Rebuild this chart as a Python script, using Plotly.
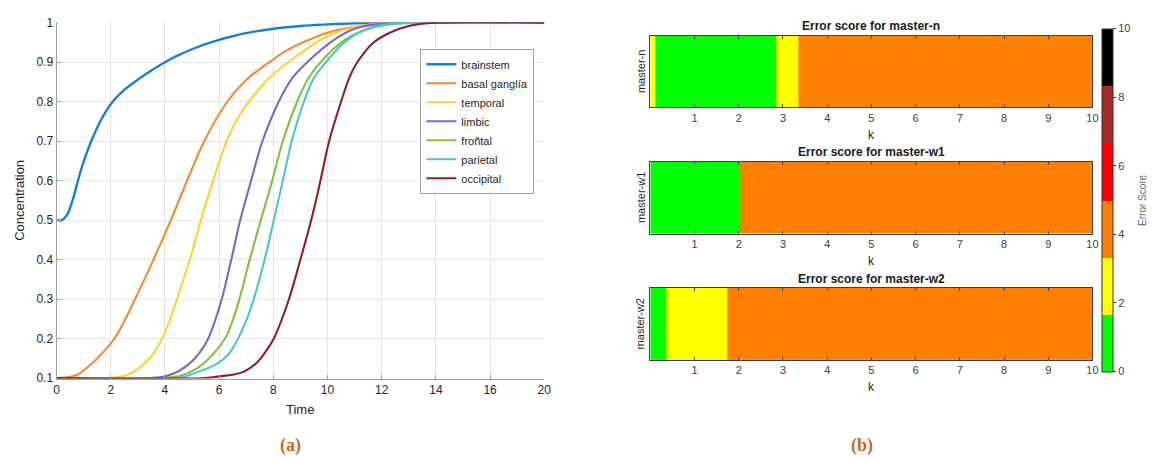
import plotly.graph_objects as go

# ---------------- Data: panel (a) ----------------
series_names = ["brainstem", "basal ganglía", "temporal", "limbic", "froñtal", "parietal", "occipital"]
series_colors = ["#1B7FD1", "#F28A30", "#FFD134", "#7B68C8", "#80C241", "#4CC6C9", "#8F1C2C"]

brainstem_t = [0, 0.2, 0.4, 0.6, 0.79, 1.0, 1.28, 1.65, 2.07, 2.5, 3.0, 3.5, 4.0, 4.5, 5.0, 5.5, 6.0, 6.5, 7.0, 8.0, 9.0, 10, 11, 12, 14, 18]
brainstem_v = [0.5, 0.5, 0.515, 0.552, 0.6, 0.648, 0.7, 0.755, 0.8, 0.83, 0.856, 0.879, 0.9, 0.918, 0.933, 0.946, 0.957, 0.966, 0.974, 0.985, 0.992, 0.996, 0.999, 1.0, 1.0, 1.0]

basal_t = [0, 0.3, 0.77, 1.36, 2.14, 2.9, 3.58, 4.22, 4.82, 5.45, 6.3, 7.0, 7.85, 8.5, 9.25, 10, 11, 12, 13, 18]
basal_v = [0.1, 0.101, 0.108, 0.14, 0.2, 0.3, 0.4, 0.5, 0.6, 0.7, 0.8, 0.855, 0.9, 0.93, 0.955, 0.975, 0.99, 0.997, 1.0, 1.0]

temporal_t = [0, 2.0, 2.5, 3.0, 3.5, 3.9, 4.2, 4.45, 4.92, 5.33, 5.78, 6.28, 6.62, 7.1, 7.85, 8.55, 9.7, 10.5, 11.5, 12.5, 18]
temporal_v = [0.1, 0.1, 0.105, 0.122, 0.155, 0.2, 0.25, 0.3, 0.4, 0.5, 0.6, 0.7, 0.75, 0.8, 0.86, 0.9, 0.955, 0.98, 0.995, 1.0, 1.0]

limbic_t = [0, 3.5, 4.0, 4.5, 5.0, 5.3, 5.6, 5.85, 6.1, 6.45, 6.78, 7.18, 7.6, 8.2, 8.7, 9.25, 10.2, 11, 12, 13, 18]
limbic_v = [0.1, 0.1, 0.104, 0.117, 0.142, 0.166, 0.2, 0.245, 0.3, 0.4, 0.5, 0.6, 0.7, 0.8, 0.86, 0.9, 0.955, 0.985, 0.998, 1.0, 1.0]

frontal_t = [0, 4.0, 4.6, 5.2, 5.75, 6.22, 6.5, 6.75, 7.13, 7.54, 7.96, 8.35, 8.88, 9.3, 9.74, 10.6, 11.5, 12.5, 13.5, 18]
frontal_v = [0.1, 0.1, 0.106, 0.125, 0.158, 0.2, 0.245, 0.3, 0.4, 0.5, 0.6, 0.7, 0.8, 0.86, 0.9, 0.955, 0.985, 0.998, 1.0, 1.0]

parietal_t = [0, 4.5, 5.08, 5.9, 6.35, 6.7, 7.0, 7.28, 7.68, 8.02, 8.35, 8.68, 9.13, 9.5, 9.94, 10.7, 11.5, 12.5, 13.5, 18]
parietal_v = [0.1, 0.1, 0.112, 0.135, 0.16, 0.2, 0.245, 0.3, 0.4, 0.5, 0.6, 0.7, 0.8, 0.86, 0.9, 0.955, 0.985, 0.998, 1.0, 1.0]

occipital_t = [0, 5.5, 6.0, 6.5, 6.92, 7.41, 7.7, 8.02, 8.58, 9.0, 9.4, 9.74, 10.06, 10.5, 10.8, 11.1, 11.7, 12.3, 13.0, 14, 18]
occipital_v = [0.1, 0.1, 0.104, 0.108, 0.116, 0.14, 0.165, 0.2, 0.3, 0.4, 0.5, 0.6, 0.7, 0.8, 0.86, 0.9, 0.95, 0.975, 0.992, 1.0, 1.0]

time_tickvals = [0, 2, 4, 6, 8, 10, 12, 14, 16, 18]
time_ticktext = ["0", "2", "4", "6", "8", "10", "12", "14", "16", "20"]
conc_tickvals = [0.1, 0.2, 0.3, 0.4, 0.5, 0.6, 0.7, 0.8, 0.9, 1.0]
conc_ticktext = ["0.1", "0.2", "0.3", "0.4", "0.5", "0.6", "0.7", "0.8", "0.9", "1"]

# ---------------- Data: panel (b) ----------------
master_labels = ["master-n", "master-w1", "master-w2"]
master_n_k = [0, 0.12, 2.84, 3.35, 10]
master_n_score = [2, 1, 2, 4]
master_w1_k = [0, 2.03, 10]
master_w1_score = [1, 4]
master_w2_k = [0, 0.36, 1.74, 10]
master_w2_score = [1, 2, 4]
k_tickvals = [1, 2, 3, 4, 5, 6, 7, 8, 9, 10]
score_tickvals = [0, 2, 4, 6, 8, 10]
band_colors = ["#00FF00", "#FFFF00", "#FF8000", "#FF0000", "#A52A2A", "#000000"]

FONT = "Liberation Sans"
W, H = 1156, 463


def px_x(p):
    return p / W


def px_y(p):
    return 1 - p / H


fig = go.Figure()

curves = [
    (brainstem_t, brainstem_v), (basal_t, basal_v), (temporal_t, temporal_v),
    (limbic_t, limbic_v), (frontal_t, frontal_v), (parietal_t, parietal_v),
    (occipital_t, occipital_v),
]
for (t, v), name, col in zip(curves, series_names, series_colors):
    fig.add_trace(go.Scatter(
        x=t, y=v, mode="lines", name=name,
        line=dict(color=col, width=2.4 if name == "brainstem" else 2.1, shape="spline", smoothing=1.0),
        xaxis="x", yaxis="y",
    ))

# discrete colorscale
cs = []
n = len(band_colors)
for i, c in enumerate(band_colors):
    cs.append([i / n, c])
    cs.append([(i + 1) / n, c])

heat_data = [(master_n_k, master_n_score), (master_w1_k, master_w1_score), (master_w2_k, master_w2_score)]
for i, (kk, sc) in enumerate(heat_data):
    fig.add_trace(go.Heatmap(
        x=kk, y=[-0.5, 0.5], z=[sc], coloraxis="coloraxis",
        xaxis=f"x{i+2}", yaxis=f"y{i+2}", showscale=False, zsmooth=False,
    ))

layout = dict(
    width=W, height=H,
    margin=dict(l=0, r=0, t=0, b=0),
    paper_bgcolor="white", plot_bgcolor="white",
    font=dict(family=FONT, color="#262626"),
    showlegend=True,
    legend=dict(
        x=px_x(421), y=px_y(44), xanchor="left", yanchor="top",
        bgcolor="white", bordercolor="#a0a0a0", borderwidth=1,
        font=dict(size=11, family=FONT, color="#262626"),
        itemwidth=30,
    ),
    xaxis=dict(
        domain=[px_x(54), px_x(546)], range=[0, 18], anchor="y",
        tickvals=time_tickvals, ticktext=time_ticktext,
        showgrid=True, gridcolor="#e6e6e6", gridwidth=1,
        showline=True, linecolor="#a0a0a0", linewidth=1,
        ticks="inside", ticklen=4, tickcolor="#a0a0a0",
        tickfont=dict(size=12, color="#262626"), zeroline=False,
    ),
    yaxis=dict(
        domain=[px_y(383.3), px_y(16.7)], range=[0.0985, 1.0015], anchor="x",
        tickvals=conc_tickvals, ticktext=conc_ticktext,
        showgrid=True, gridcolor="#e6e6e6", gridwidth=1,
        showline=True, linecolor="#a0a0a0", linewidth=1,
        ticks="inside", ticklen=4, tickcolor="#a0a0a0",
        tickfont=dict(size=12, color="#262626"), zeroline=False,
    ),
    coloraxis=dict(
        colorscale=cs, cmin=0, cmax=10,
        colorbar=dict(
            x=px_x(1108.5), xanchor="left", xpad=0, ypad=0,
            y=px_y(199.65), yanchor="middle",
            len=352.7 / H, lenmode="fraction",
            thickness=11, thicknessmode="pixels",
            outlinewidth=1, outlinecolor="#333333",
            tickvals=score_tickvals, ticks="outside", ticklen=3, tickcolor="#333333",
            tickfont=dict(size=11, color="#404040", family=FONT),
        ),
    ),
)

sub_y = [(30.7, 104.3), (160, 234.3), (290, 364.3)]
for i, (top, bot) in enumerate(sub_y):
    xa = f"xaxis{i+2}"
    ya = f"yaxis{i+2}"
    layout[xa] = dict(
        domain=[px_x(653), px_x(1099)], range=[0, 10], anchor=f"y{i+2}",
        tickvals=k_tickvals, showgrid=False, zeroline=False,
        showline=True, linecolor="#404040", linewidth=1, mirror="ticks",
        ticks="inside", ticklen=3, tickcolor="#404040",
        tickfont=dict(size=11, color="#404040"),
    )
    layout[ya] = dict(
        domain=[px_y(bot), px_y(top)], range=[-0.5, 0.5], anchor=f"x{i+2}",
        showticklabels=False, showgrid=False, zeroline=False,
        showline=True, linecolor="#404040", linewidth=1, mirror=True, ticks="",
    )

fig.update_layout(**layout)


def note(text, x, y, size, color="#262626", angle=0, family=FONT):
    return dict(text=text, x=px_x(x), y=px_y(y), xref="paper", yref="paper",
                xanchor="center", yanchor="middle", showarrow=False, textangle=angle,
                font=dict(size=size, color=color, family=family))


ann = [
    note("Time", 300, 415, 13),
    note("Concentration", 16.6, 200, 13, angle=-90),
    note("<b>(a)</b>", 290, 452, 18, color="#C96A1B", family="Liberation Serif"),
    note("<b>(b)</b>", 866, 452, 18, color="#C96A1B", family="Liberation Serif"),
    note("Error Score", 1149.5, 200, 10, color="#666666", angle=-90),
]

title_y = [20.7, 150.7, 280.7]
k_y = [132.3, 262.3, 391.7]
for i, lab in enumerate(master_labels):
    top, bot = sub_y[i]
    ann.append(note(f"<b>Error score for {lab}</b>", 876, title_y[i], 12, color="#1a1a1a"))
    ann.append(note("k", 876, k_y[i], 12))
    ann.append(note(lab, 643, (top + bot) / 2, 11, angle=-90))

fig.update_layout(annotations=ann)
fig.write_html("out.html")
